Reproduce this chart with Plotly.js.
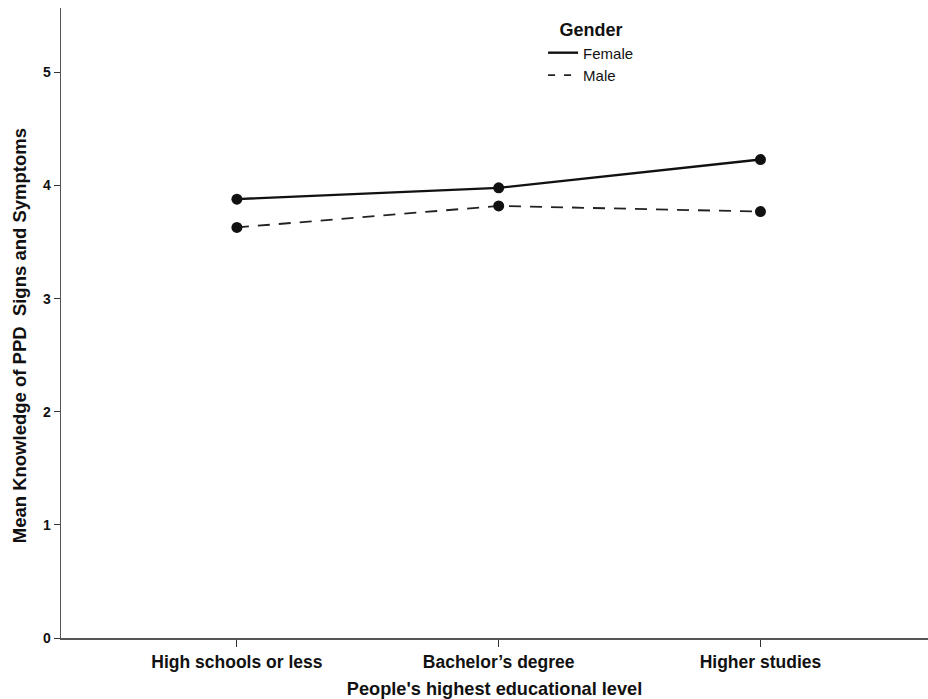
<!DOCTYPE html>
<html><head><meta charset="utf-8">
<script src="https://cdn.plot.ly/plotly-3.0.1.min.js"></script>
<style>html,body{margin:0;padding:0;background:#fff}</style>
</head><body>
<div id="chart" style="width:928px;height:699px"></div>
<script>
const categories = ["High schools or less", "Bachelor\u2019s degree", "Higher studies"];
const femaleMeans = [3.88, 3.98, 4.23];
const maleMeans = [3.63, 3.82, 3.77];
const yTicks = [0, 1, 2, 3, 4, 5];
const yTitle = "Mean Knowledge of PPD  Signs and Symptoms";
const xTitle = "People's highest educational level";

const fnt = "Liberation Sans, Arial, sans-serif";
const xIdx = categories.map((c, i) => i);

const femaleLine = {color: "#111", width: 2.4};
const maleLine = {color: "#222", width: 1.8, dash: "12px,9px"};

const traces = [
  {x: xIdx, y: femaleMeans, name: "Female", type: "scatter", mode: "lines+markers", showlegend: false,
   line: femaleLine, marker: {color: "#111", size: 11}},
  {x: xIdx, y: maleMeans, name: "Male", type: "scatter", mode: "lines+markers", showlegend: false,
   line: maleLine, marker: {color: "#111", size: 11}},
  // legend-only entries (lines without markers, as in the original legend)
  {x: [null], y: [null], name: "Female", type: "scatter", mode: "lines", line: femaleLine},
  {x: [null], y: [null], name: "Male", type: "scatter", mode: "lines", line: {color: "#222", width: 1.8, dash: "7px,9px"}}
];

const layout = {
  width: 928, height: 699,
  margin: {l: 61, r: 0, t: 8, b: 61},
  paper_bgcolor: "#fff", plot_bgcolor: "#fff",
  font: {family: fnt, color: "#111", size: 13},
  showlegend: true,
  legend: {
    x: 0.556, y: 0.992, xanchor: "left", yanchor: "top",
    title: {text: "<b>Gender</b>", side: "top center", font: {family: fnt, size: 18, color: "#111"}},
    font: {family: fnt, size: 15, color: "#111"},
    bgcolor: "rgba(0,0,0,0)", tracegroupgap: 0, itemwidth: 30
  },
  xaxis: {
    range: [-0.672, 2.64], tickmode: "array", tickvals: xIdx, ticktext: categories.map(c => "<b>" + c + "</b>"),
    showline: true, linecolor: "#555", linewidth: 1.5, ticks: "outside", ticklen: 7, tickcolor: "#333",
    showgrid: false, zeroline: false, tickfont: {family: fnt, size: 17.5, color: "#111"},
    title: {text: "<b>" + xTitle + "</b>", font: {family: fnt, size: 18.2, color: "#111"}, standoff: 12}
  },
  yaxis: {
    range: [0, 5.57], tickmode: "array", tickvals: yTicks, ticktext: yTicks.map(v => "<b>" + v + "</b>"),
    showline: true, linecolor: "#555", linewidth: 1.5, ticks: "outside", ticklen: 6, tickcolor: "#333",
    showgrid: false, zeroline: false, tickfont: {family: fnt, size: 14, color: "#111"}
  },
  annotations: [{
    text: "<b>" + yTitle + "</b>", textangle: -90, showarrow: false,
    xref: "paper", yref: "paper", x: -0.0484, y: 0.479, xanchor: "center", yanchor: "middle",
    font: {family: fnt, size: 18.5, color: "#111"}
  }]
};

Plotly.newPlot("chart", traces, layout, {displayModeBar: false, staticPlot: true});
</script>
</body></html>
